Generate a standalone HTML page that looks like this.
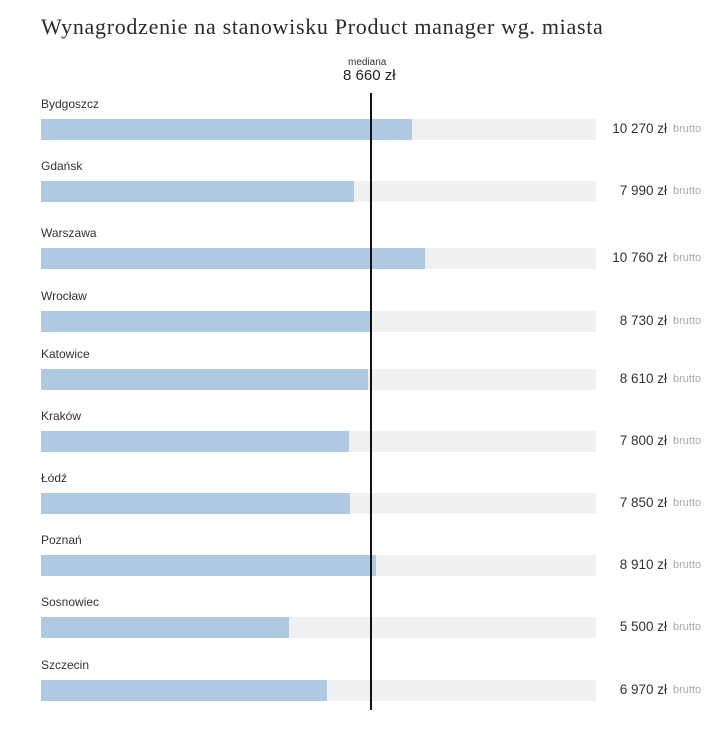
<!DOCTYPE html>
<html><head><meta charset="utf-8"><style>
body{margin:0;width:720px;height:730px;background:#fff;position:relative;font-family:"Liberation Sans",sans-serif;overflow:hidden}
.t{position:absolute;left:41px;top:14px;font-family:"Liberation Serif",serif;font-size:22px;letter-spacing:0.7px;color:#2a2a2a}
.l{position:absolute;left:41px;font-size:12px;color:#333}
.tr{position:absolute;left:41px;width:555px;height:21px;background:#f0f0f0}
.b{position:absolute;left:41px;height:21px;background:#b0c9e3}
.v{position:absolute;right:53px;font-size:13.5px;color:#333;text-align:right}
.u{position:absolute;left:673px;font-size:11px;color:#aaa}
.m{position:absolute;left:370px;top:93px;width:2px;height:617px;background:#111}
</style></head><body>
<div class="t">Wynagrodzenie na stanowisku Product manager wg. miasta</div>
<div style="position:absolute;left:348px;top:57px;font-size:10px;color:#333">mediana</div>
<div style="position:absolute;left:343px;top:67px;font-size:15px;color:#222">8 660 zł</div>
<div id="c"></div>
<div class="m"></div>
<script>
var d=[["Bydgoszcz","10 270 zł",412,119],["Gdańsk","7 990 zł",354,181],["Warszawa","10 760 zł",425,248],["Wrocław","8 730 zł",371,311],["Katowice","8 610 zł",368,369],["Kraków","7 800 zł",349,431],["Łódź","7 850 zł",350,493],["Poznań","8 910 zł",376,555],["Sosnowiec","5 500 zł",289,617],["Szczecin","6 970 zł",327,680]];
var h="";d.forEach(function(r){var y=r[3];
h+='<div class="l" style="top:'+(y-22)+'px">'+r[0]+'</div><div class="tr" style="top:'+y+'px"></div><div class="b" style="top:'+y+'px;width:'+(r[2]-41)+'px"></div><div class="v" style="top:'+(y+2)+'px">'+r[1]+'</div><div class="u" style="top:'+(y+4)+'px">brutto</div>';});
document.getElementById("c").innerHTML=h;
</script>
</body></html>
